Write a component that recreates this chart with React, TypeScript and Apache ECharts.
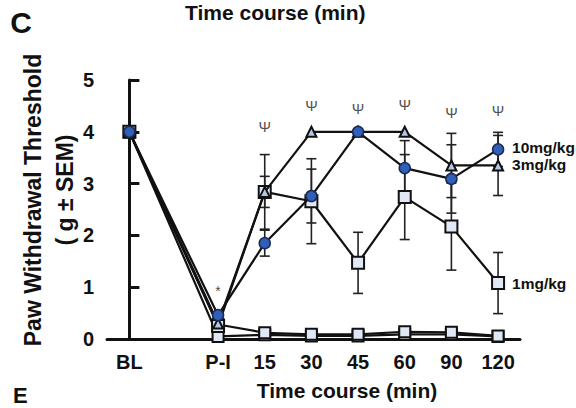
import React, { useEffect, useRef } from "react";
import * as echarts from "echarts";

const xNames = ["BL", "P-I", "15", "30", "45", "60", "90", "120"];
const xPos = [0, 1.9, 2.9, 3.9, 4.9, 5.9, 6.9, 7.9];

const mg10 = [4.0, 0.46, 1.85, 2.76, 4.0, 3.3, 3.09, 3.66];
const mg10Sem = [0, 0, 0.25, 0.52, 0, 0.53, 0.66, 0.33];
const mg3 = [4.0, 0.3, 2.84, 4.0, 4.0, 4.0, 3.35, 3.35];
const mg3Sem = [0, 0, 0.3, 0, 0, 0, 0.62, 0.58];
const mg1 = [4.0, 0.25, 2.84, 2.66, 1.47, 2.74, 2.17, 1.08];
const mg1Sem = [0, 0, 0.72, 0.82, 0.59, 0.82, 0.84, 0.59];
const vehA = [4.0, 0.28, 0.12, 0.09, 0.09, 0.14, 0.13, 0.06];
const vehB = [4.0, 0.05, 0.08, 0.06, 0.06, 0.09, 0.09, 0.05];

const psiY = [null, null, 4.1, 4.5, 4.45, 4.52, 4.38, 4.42];
const starPoint = { x: 1.9, y: 0.92 };

const yTicks = [0, 1, 2, 3, 4, 5];

const FONT = "'Liberation Sans', Arial, sans-serif";
const INK = "#111";

function pts(vals: number[]) {
  return vals.map((v, i) => [xPos[i], v]);
}

function errData() {
  const out: number[][] = [];
  const groups = [
    [mg1, mg1Sem],
    [mg3, mg3Sem],
    [mg10, mg10Sem],
  ];
  groups.forEach(([vals, sems]) => {
    vals.forEach((v, i) => {
      if (sems[i] > 0) out.push([xPos[i], v, sems[i]]);
    });
  });
  return out;
}

export default function App() {
  const ref = useRef<HTMLDivElement>(null);
  useEffect(() => {
    document.body.style.margin = "0";
    const chart = echarts.init(ref.current!, null, { renderer: "svg" });
    const squareStyle = { color: "#dfe8f4", borderColor: INK, borderWidth: 2 };
    const lineStyle = { color: INK, width: 2.2 };
    const endLabel = (text: string, off: number[]) => ({
      show: true,
      formatter: text,
      distance: 14,
      offset: off,
      fontFamily: FONT,
      fontSize: 15.5,
      fontWeight: "bold",
      color: INK,
    });
    chart.setOption({
      animation: false,
      backgroundColor: "#fff",
      grid: { left: 107, right: 56, top: 80, bottom: 69 },
      xAxis: {
        type: "value",
        min: -0.48,
        max: 8.37,
        splitLine: { show: false },
        axisLine: { show: true, lineStyle: { color: INK, width: 3 } },
        axisTick: {
          show: true,
          inside: true,
          length: 10,
          customValues: [xPos[0]],
          lineStyle: { color: INK, width: 3 },
        },
        axisLabel: {
          customValues: xPos,
          formatter: (v: number) => {
            const i = xPos.findIndex((p) => Math.abs(p - v) < 1e-6);
            return i >= 0 ? xNames[i] : "";
          },
          fontFamily: FONT,
          fontSize: 20,
          fontWeight: "bold",
          color: INK,
          margin: 13,
        },
      },
      yAxis: {
        type: "value",
        min: 0,
        max: 5,
        interval: 1,
        splitLine: { show: false },
        axisLine: { show: true, lineStyle: { color: INK, width: 3 } },
        axisTick: { show: true, inside: true, length: 10, lineStyle: { color: INK, width: 3 } },
        axisLabel: {
          formatter: (v: number) => (yTicks.includes(v) ? String(v) : ""),
          fontFamily: FONT,
          fontSize: 20,
          fontWeight: "bold",
          color: INK,
          margin: 13,
        },
      },
      series: [
        {
          type: "custom",
          z: 1,
          data: errData(),
          renderItem: (_p: any, api: any) => {
            const x = api.value(0);
            const y = api.value(1);
            const e = api.value(2);
            const t = api.coord([x, y + e]);
            const b = api.coord([x, y - e]);
            const hw = 5;
            const st = { stroke: "#222", lineWidth: 1.6 };
            return {
              type: "group",
              children: [
                { type: "line", shape: { x1: t[0], y1: t[1], x2: b[0], y2: b[1] }, style: st },
                { type: "line", shape: { x1: t[0] - hw, y1: t[1], x2: t[0] + hw, y2: t[1] }, style: st },
                { type: "line", shape: { x1: b[0] - hw, y1: b[1], x2: b[0] + hw, y2: b[1] }, style: st },
              ],
            };
          },
        },
        {
          type: "line",
          name: "vehB",
          data: pts(vehB),
          symbol: "rect",
          symbolSize: 11,
          lineStyle,
          itemStyle: squareStyle,
          z: 2,
        },
        {
          type: "line",
          name: "vehA",
          data: pts(vehA),
          symbol: "rect",
          symbolSize: 11,
          lineStyle,
          itemStyle: squareStyle,
          z: 2,
        },
        {
          type: "line",
          name: "1mg/kg",
          data: pts(mg1),
          symbol: "rect",
          symbolSize: 12,
          lineStyle,
          itemStyle: squareStyle,
          endLabel: endLabel("1mg/kg", [0, 0]),
          z: 3,
        },
        {
          type: "line",
          name: "3mg/kg",
          data: pts(mg3),
          symbol: "triangle",
          symbolSize: 10,
          lineStyle,
          itemStyle: { color: "#b3c8e6", borderColor: INK, borderWidth: 2 },
          endLabel: endLabel("3mg/kg", [0, -1]),
          z: 4,
        },
        {
          type: "line",
          name: "10mg/kg",
          data: pts(mg10),
          symbol: "circle",
          symbolSize: 11,
          lineStyle,
          itemStyle: { color: "#2f5fb6", borderColor: "#1a2a55", borderWidth: 1.5 },
          endLabel: endLabel("10mg/kg", [0, -2]),
          z: 5,
        },
        {
          type: "scatter",
          symbolSize: 0,
          z: 6,
          data: psiY
            .map((v, i) => (v === null ? null : [xPos[i], v]))
            .filter((d) => d !== null),
          label: {
            show: true,
            position: "inside",
            formatter: "Ψ",
            fontFamily: FONT,
            fontSize: 15,
            color: "#222",
          },
        },
        {
          type: "scatter",
          symbolSize: 0,
          z: 6,
          data: [[starPoint.x, starPoint.y]],
          label: {
            show: true,
            position: "inside",
            formatter: "*",
            fontFamily: FONT,
            fontSize: 14,
            color: "#222",
          },
        },
      ],
      graphic: [
        {
          type: "text",
          x: 21,
          y: 22,
          style: { text: "C", fontFamily: FONT, fontSize: 30, fontWeight: "bold", fill: INK, align: "center", verticalAlign: "middle" },
        },
        {
          type: "text",
          x: 185,
          y: 12,
          style: { text: "Time course (min)", fontFamily: FONT, fontSize: 21, fontWeight: "bold", fill: INK, align: "left", verticalAlign: "middle" },
        },
        {
          type: "text",
          x: 13,
          y: 395,
          style: { text: "E", fontFamily: FONT, fontSize: 22, fontWeight: "bold", fill: INK, align: "left", verticalAlign: "middle" },
        },
        {
          type: "text",
          x: 347,
          y: 390,
          style: { text: "Time course (min)", fontFamily: FONT, fontSize: 21, fontWeight: "bold", fill: INK, align: "center", verticalAlign: "middle" },
        },
        {
          type: "text",
          x: 33,
          y: 200,
          rotation: Math.PI / 2,
          style: { text: "Paw Withdrawal Threshold", fontFamily: FONT, fontSize: 23, fontWeight: "bold", fill: INK, align: "center", verticalAlign: "middle" },
        },
        {
          type: "text",
          x: 65,
          y: 190,
          rotation: Math.PI / 2,
          style: { text: "( g ± SEM)", fontFamily: FONT, fontSize: 23, fontWeight: "bold", fill: INK, align: "center", verticalAlign: "middle" },
        },
      ],
    });
    return () => chart.dispose();
  }, []);
  return (
    <div
      ref={ref}
      style={{ position: "fixed", left: 0, top: 0, width: 576, height: 408 }}
    />
  );
}
